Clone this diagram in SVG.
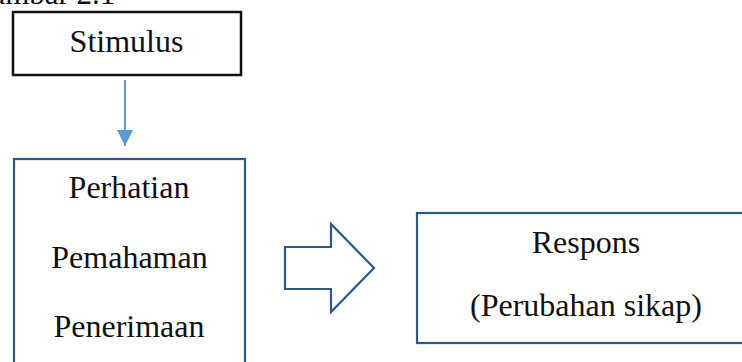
<svg xmlns="http://www.w3.org/2000/svg" width="742" height="362" viewBox="0 0 742 362">
<style>
.t{font-family:"Liberation Serif","Times New Roman",serif;font-size:32px;fill:#111;text-anchor:middle}
.bx{fill:#fff;stroke:#2c5887;stroke-width:2.2}
</style>
<defs>
<marker id="ah" viewBox="0 0 10 10" refX="10" refY="5" markerWidth="16" markerHeight="16" markerUnits="userSpaceOnUse" orient="auto">
<path d="M0,0 L10,5 L0,10 z" fill="#5b9bd5"/>
</marker>
</defs>
<rect width="742" height="362" fill="#fff"/>
<text x="-31" y="4" style="font-family:'Liberation Serif','Times New Roman',serif;font-size:31px;fill:#111">Gambar 2.1</text>
<g id="stimulus">
<rect x="13" y="12" width="228" height="63" fill="#fff" stroke="#111" stroke-width="2.5"/>
<text class="t" x="126.5" y="52">Stimulus</text>
</g>
<g id="proses">
<rect class="bx" x="14" y="159" width="231" height="220"/>
<text class="t" x="129" y="198">Perhatian</text>
<text class="t" x="129.5" y="268">Pemahaman</text>
<text class="t" x="129" y="337">Penerimaan</text>
</g>
<g id="respons">
<rect class="bx" x="417" y="213" width="340" height="130"/>
<text class="t" x="586" y="253">Respons</text>
<text class="t" x="586" y="316">(Perubahan sikap)</text>
</g>
<g id="connectors">
<line x1="125" y1="80" x2="125" y2="146" stroke="#5b9bd5" stroke-width="2" marker-end="url(#ah)"/>
<polygon points="285,247 331,247 331,224 374,268 331,312 331,289 285,289" fill="#fff" stroke="#2c5887" stroke-width="2.2" stroke-linejoin="miter"/>
</g>
</svg>
